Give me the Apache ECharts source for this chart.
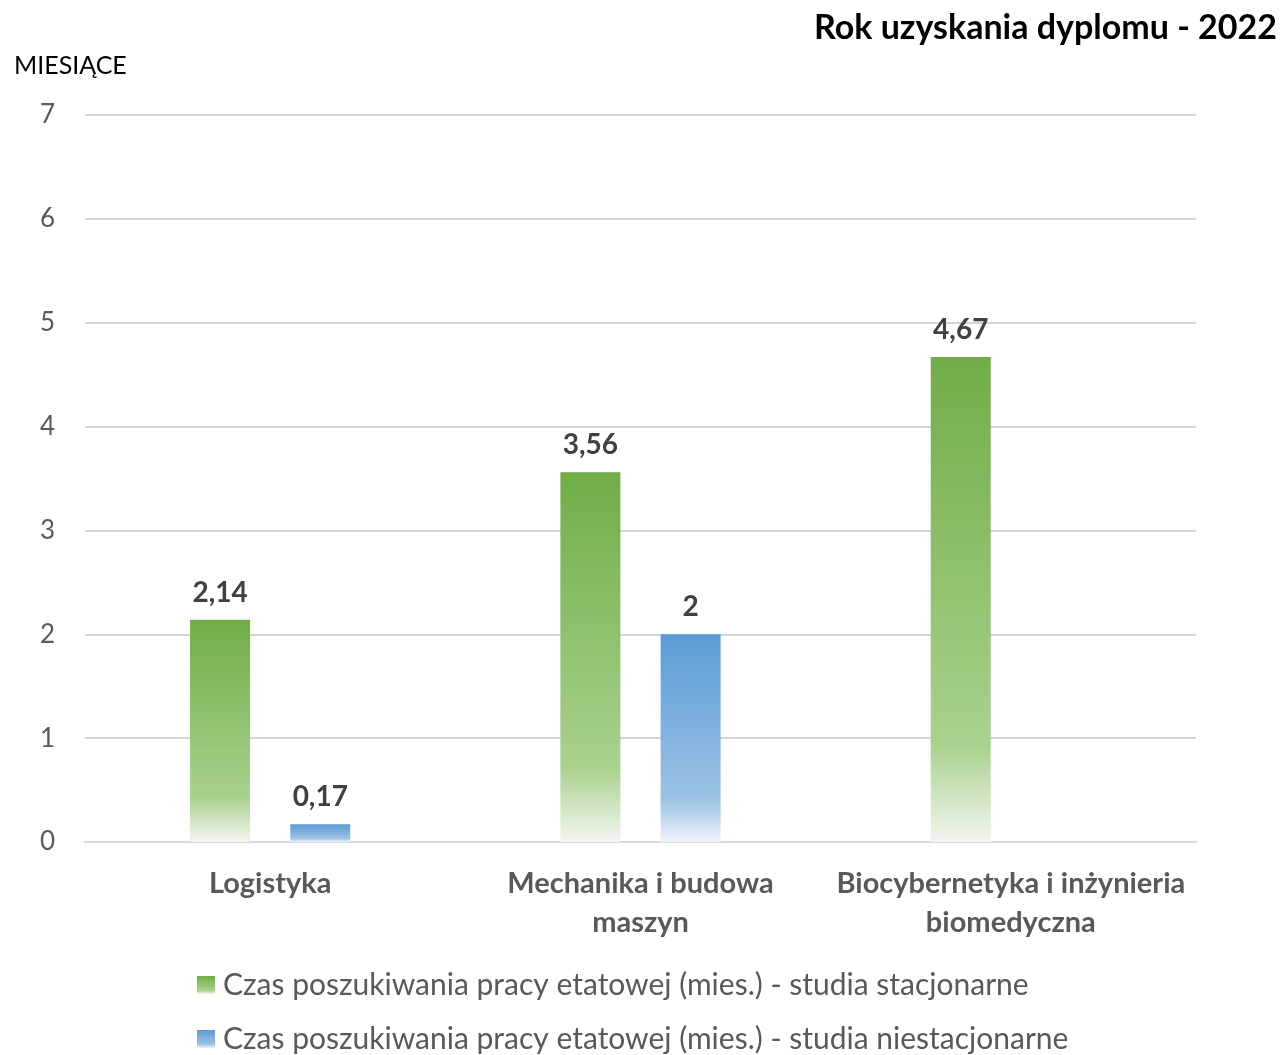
<!DOCTYPE html>
<html>
<head>
<meta charset="utf-8">
<script src="https://cdn.jsdelivr.net/npm/echarts@6/dist/echarts.min.js"></script>
<style>
html,body{margin:0;padding:0;background:#fff;}
#chart{width:1286px;height:1055px;}
</style>
</head>
<body>
<div id="chart"></div>
<script>
// dane z wykresu
var categories = ['Logistyka', 'Mechanika i budowa\nmaszyn', 'Biocybernetyka i inżynieria\nbiomedyczna'];
var stacjonarne = [2.14, 3.56, 4.67];
var niestacjonarne = [0.17, 2, null];
var seriesNames = [
    'Czas poszukiwania pracy etatowej (mies.) - studia stacjonarne',
    'Czas poszukiwania pracy etatowej (mies.) - studia niestacjonarne'
];

var FONT = 'Lato';

function grad(top, mid, bottom){
    return new echarts.graphic.LinearGradient(0, 0, 0, 1, [
        {offset: 0, color: top},
        {offset: 0.8, color: mid},
        {offset: 1, color: bottom}
    ]);
}

function fmt(p){
    return String(p.value).replace('.', ',');
}

var labelCfg = {
    show: true,
    position: 'top',
    distance: 13,
    formatter: fmt,
    fontFamily: FONT,
    fontSize: 28,
    fontWeight: 'bold',
    color: '#404040'
};

var chart = echarts.init(document.getElementById('chart'));
var option = {
    backgroundColor: '#fff',
    animation: false,
    title: [{
        text: 'Rok uzyskania dyplomu - 2022',
        right: 4,
        top: 6,
        textStyle: {fontFamily: FONT, fontSize: 34, fontWeight: 'bold', color: '#000'}
    },{
        text: 'MIESIĄCE',
        left: 9,
        top: 48,
        textStyle: {fontFamily: FONT, fontSize: 25, fontWeight: 'normal', color: '#000'}
    }],
    grid: {left: 85, right: 90, top: 115, bottom: 213},
    legend: {
        orient: 'vertical',
        left: 197,
        top: 970,
        padding: 0,
        itemWidth: 18,
        itemHeight: 18,
        itemGap: 24,
        icon: 'rect',
        textStyle: {fontFamily: FONT, fontSize: 30, color: '#595959', padding: [0, 0, 0, 3]},
        data: seriesNames
    },
    xAxis: {
        type: 'category',
        data: categories,
        axisLine: {lineStyle: {color: '#d9d9d9', width: 2}},
        axisTick: {show: false},
        axisLabel: {
            interval: 0,
            fontFamily: FONT, fontSize: 29, fontWeight: 'bold', color: '#595959',
            margin: 22, lineHeight: 39
        }
    },
    yAxis: {
        type: 'value',
        min: 0,
        max: 7,
        interval: 1,
        axisLine: {show: false},
        axisTick: {show: false},
        axisLabel: {fontFamily: FONT, fontSize: 26, color: '#595959', margin: 30},
        splitLine: {lineStyle: {color: '#d4d4d4', width: 2}}
    },
    series: [{
        name: seriesNames[0],
        type: 'bar',
        data: stacjonarne,
        barWidth: 60,
        barGap: '67%',
        itemStyle: {color: grad('#70ad47', '#a9d18e', '#f3f6f0')},
        label: labelCfg
    },{
        name: seriesNames[1],
        type: 'bar',
        data: niestacjonarne,
        barWidth: 60,
        itemStyle: {color: grad('#5b9bd5', '#9dc3e6', '#f0f4fa')},
        label: labelCfg
    }]
};
chart.setOption(option);
</script>
</body>
</html>
